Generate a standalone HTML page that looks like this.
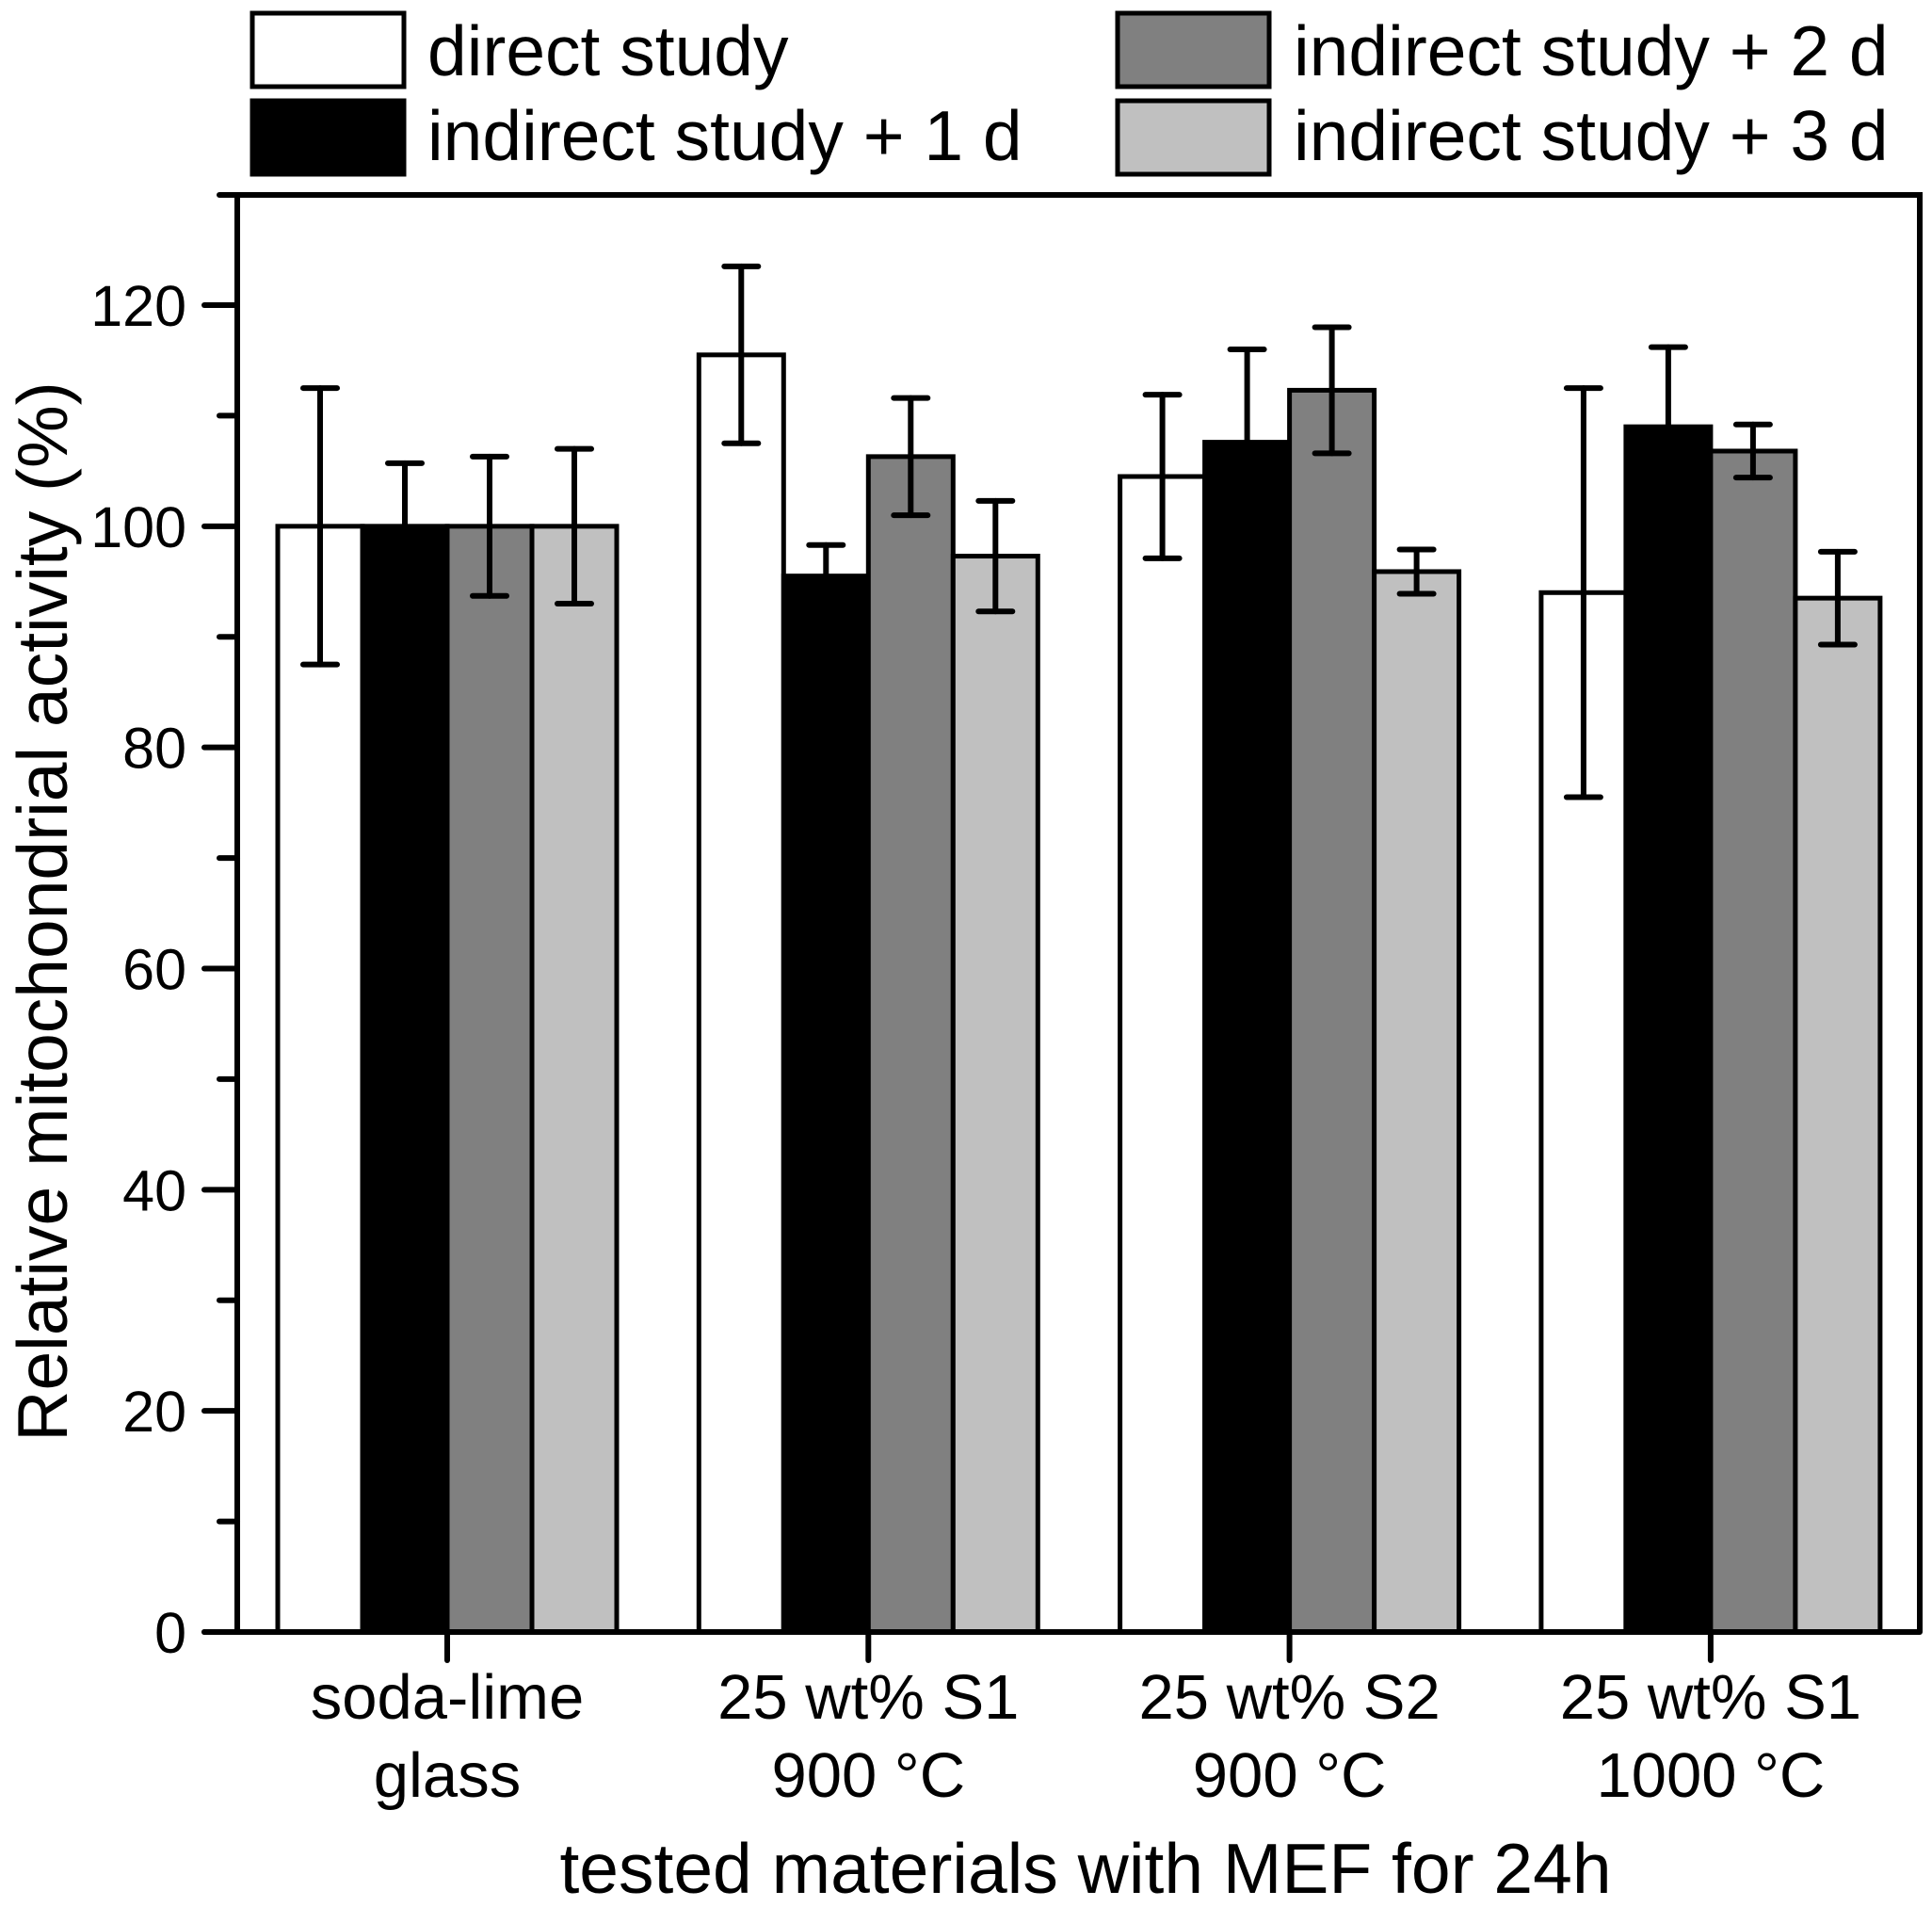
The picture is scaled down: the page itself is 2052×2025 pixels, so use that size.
<!DOCTYPE html>
<html><head><meta charset="utf-8"><style>
html,body{margin:0;padding:0;background:#fff;}
svg{display:block;font-family:"Liberation Sans",Arial,sans-serif;}
</style></head>
<body>
<svg id="chart" width="2052" height="2025" viewBox="0 0 2052 2025" xmlns="http://www.w3.org/2000/svg">
<g id="legend">
  <g>
    <rect x="268" y="14" width="161" height="78" fill="#fff" stroke="#000" stroke-width="5"/>
    <text x="454" y="80" font-size="75">direct study</text>
  </g>
  <g>
    <rect x="268" y="107" width="161" height="78" fill="#000" stroke="#000" stroke-width="5"/>
    <text x="454" y="170" font-size="75">indirect study + 1 d</text>
  </g>
  <g>
    <rect x="1187" y="14" width="161" height="78" fill="#808080" stroke="#000" stroke-width="5"/>
    <text x="1374" y="80" font-size="75">indirect study + 2 d</text>
  </g>
  <g>
    <rect x="1187" y="107" width="161" height="78" fill="#c0c0c0" stroke="#000" stroke-width="5"/>
    <text x="1374" y="170" font-size="75">indirect study + 3 d</text>
  </g>
</g>
<g id="bars"></g>
<g id="axes"></g>
<text transform="translate(71,968) rotate(-90)" text-anchor="middle" font-size="75">Relative mitochondrial activity (%)</text>
<text x="1153" y="2010" text-anchor="middle" font-size="75">tested materials with MEF for 24h</text>
</svg>
<script>
const categories = [["soda-lime","glass"],["25 wt% S1","900 °C"],["25 wt% S2","900 °C"],["25 wt% S1","1000 °C"]];
const seriesNames = ["direct study","indirect study + 1 d","indirect study + 2 d","indirect study + 3 d"];
const seriesColors = ["#ffffff","#000000","#808080","#c0c0c0"];
const direct = [100, 115.5, 104.5, 94];
const indirect1 = [100, 95.5, 107.6, 109];
const indirect2 = [100, 106.3, 112.3, 106.8];
const indirect3 = [100, 97.3, 95.9, 93.5];
const directErr = [12.5, 8, 7.4, 18.5];
const indirect1Err = [5.7, 2.8, 8.4, 7.2];
const indirect2Err = [6.3, 5.3, 5.7, 2.4];
const indirect3Err = [7, 5, 2, 4.2];
const yTicks = [0, 20, 40, 60, 80, 100, 120];
const yMinorTicks = [10, 30, 50, 70, 90, 110];

const NS = "http://www.w3.org/2000/svg";
const X0 = 252, X1 = 2039, Y0 = 1733, YT = 207;
const yPerUnit = (1733 - 324) / 120;
function y(v){ return Y0 - v * yPerUnit; }
function groupCenter(i){ return 475 + i * 447.3; }
const barW = 90;
function barX(i, s){ return groupCenter(i) - 2 * barW + s * barW; }
function mk(tag, attrs, parent){ const e = document.createElementNS(NS, tag); for (const k in attrs) e.setAttribute(k, attrs[k]); parent.appendChild(e); return e; }

const series = [direct, indirect1, indirect2, indirect3];
const errs = [directErr, indirect1Err, indirect2Err, indirect3Err];
const barsG = document.getElementById('bars');
for (let s = 0; s < series.length; s++) {
  for (let i = 0; i < categories.length; i++) {
    const v = series[s][i];
    const r = mk('rect', {x: barX(i, s), y: y(v), width: barW, height: Y0 - y(v), fill: seriesColors[s], stroke: '#000', 'stroke-width': 5}, barsG);
    
    
  }
}
for (let s = 0; s < series.length; s++) {
  for (let i = 0; i < categories.length; i++) {
    const v = series[s][i], e = errs[s][i];
    const cx = barX(i, s) + barW / 2;
    const g = mk('g', {stroke: '#000', 'stroke-width': 6, 'stroke-linecap': 'round'}, barsG);
    
    
    mk('line', {x1: cx, x2: cx, y1: y(v + e), y2: y(v - e)}, g);
    mk('line', {x1: cx - 18, x2: cx + 18, y1: y(v + e), y2: y(v + e)}, g);
    mk('line', {x1: cx - 18, x2: cx + 18, y1: y(v - e), y2: y(v - e)}, g);
  }
}
const ax = document.getElementById('axes');
const frame = mk('path', {d: `M${X0} ${Y0} V${YT} M${X0-19} ${YT} H${X1} V${Y0} M${X0-35} ${Y0} H${X1}`, fill: 'none', stroke: '#000', 'stroke-width': 6, 'stroke-linecap': 'round'}, ax);


for (const t of yTicks) {
  const l = mk('line', {x1: X0 - 35, x2: X0, y1: y(t), y2: y(t), stroke: '#000', 'stroke-width': 6, 'stroke-linecap': 'round'}, ax);
  
  
  const tx = mk('text', {x: 198, y: y(t) + 22, 'text-anchor': 'end', 'font-size': 61}, ax);
  tx.textContent = String(t);
  
  
}
for (const t of yMinorTicks) {
  const l = mk('line', {x1: X0 - 19, x2: X0, y1: y(t), y2: y(t), stroke: '#000', 'stroke-width': 6, 'stroke-linecap': 'round'}, ax);
  
  
}
for (let i = 0; i < categories.length; i++) {
  const cx = groupCenter(i);
  const l = mk('line', {x1: cx, x2: cx, y1: Y0, y2: Y0 + 30, stroke: '#000', 'stroke-width': 6, 'stroke-linecap': 'round'}, ax);
  
  
  for (let k = 0; k < 2; k++) {
    const tx = mk('text', {x: cx, y: k === 0 ? 1825 : 1908, 'text-anchor': 'middle', 'font-size': 67}, ax);
    tx.textContent = categories[i][k];
    
    
  }
}
</script>
</body></html>
